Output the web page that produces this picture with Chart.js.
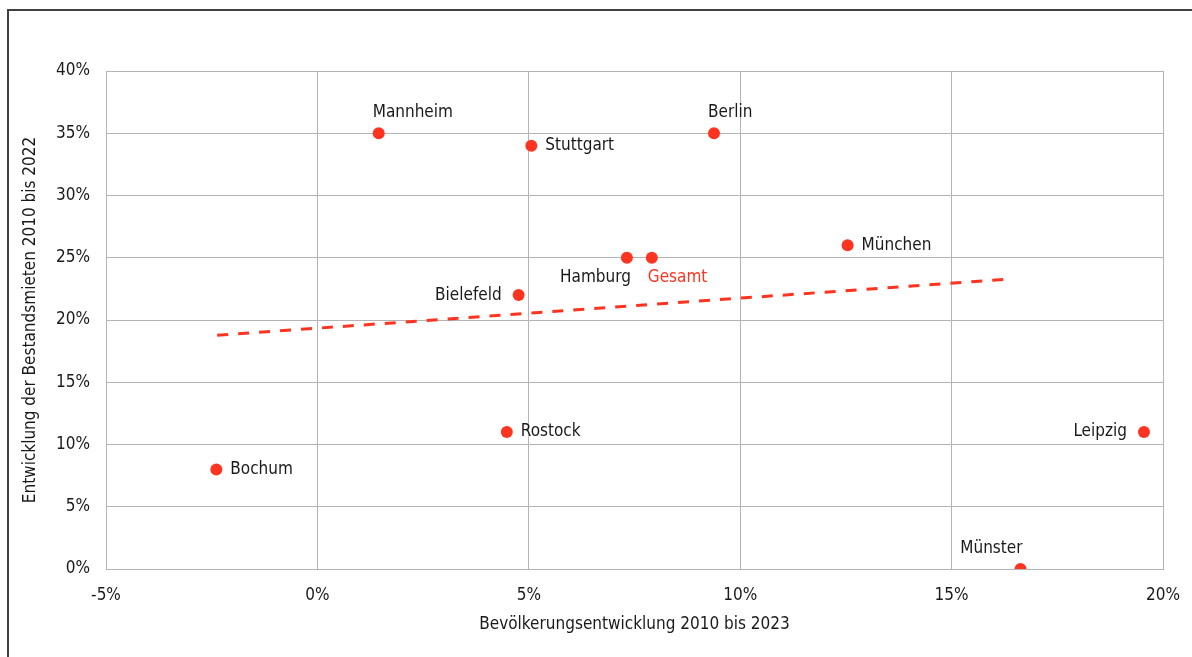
<!DOCTYPE html>
<html><head><meta charset="utf-8">
<script src="https://cdn.jsdelivr.net/npm/chart.js@4/dist/chart.umd.min.js"></script>
<style>html,body{margin:0;padding:0;background:#fff;}canvas{display:block}</style>
</head><body>
<canvas id="c" width="1192" height="657"></canvas>
<script>
// ---- data ----
const cities = ['Mannheim','Stuttgart','Berlin','München','Hamburg','Gesamt','Bielefeld','Rostock','Bochum','Leipzig','Münster'];
const popGrowth = [1.45, 5.06, 9.38, 12.54, 7.32, 7.91, 4.76, 4.48, -2.39, 19.55, 16.63];
const rentGrowth = [35, 34, 35, 26, 25, 25, 22, 11, 8, 11, 0];
const trendX = [-2.37, 16.37];
const trendY = [18.77, 23.29];
const xTicks = [-5, 0, 5, 10, 15, 20];
const yTicks = [0, 5, 10, 15, 20, 25, 30, 35, 40];
const xTitle = 'Bevölkerungsentwicklung 2010 bis 2023';
const yTitle = 'Entwicklung der Bestandsmieten 2010 bis 2022';

// ---- style ----
const RED = '#ff3420';
const TEXT = '#1a1a1a';
const GRID = '#b4b4b4';
const FONT = '"Liberation Sans Narrow", "DejaVu Sans Condensed", "Roboto", sans-serif';
const labelPlacement = {
  'Mannheim': 'aboveStart', 'Berlin': 'aboveStart', 'Münster': 'aboveEnd',
  'Stuttgart': 'right', 'München': 'right', 'Rostock': 'right', 'Bochum': 'right',
  'Bielefeld': 'left', 'Leipzig': 'left',
  'Hamburg': 'belowEnd', 'Gesamt': 'belowStart'
};
const labelColor = { 'Gesamt': RED };

const points = cities.map((c, i) => ({ x: popGrowth[i], y: rentGrowth[i] }));
const trend = trendX.map((x, i) => ({ x, y: trendY[i] }));

const framePlugin = {
  id: 'frame',
  beforeDraw(chart) {
    const ctx = chart.ctx;
    ctx.save();
    ctx.fillStyle = '#fff';
    ctx.fillRect(0, 0, chart.width, chart.height);
    ctx.fillStyle = '#404040';
    ctx.fillRect(7, 9, chart.width, 2);
    ctx.fillRect(7, 9, 2, chart.height);
    ctx.restore();
  }
};

const labelPlugin = {
  id: 'pointLabels',
  afterDatasetsDraw(chart) {
    const ctx = chart.ctx;
    const meta = chart.getDatasetMeta(1);
    ctx.save();
    ctx.font = '17px ' + FONT;
    ctx.textBaseline = 'middle';
    meta.data.forEach((el, i) => {
      const name = cities[i];
      const p = labelPlacement[name];
      let x = el.x, y = el.y, align = 'left';
      if (p === 'aboveStart') { x -= 6; y -= 21; align = 'left'; }
      else if (p === 'aboveEnd') { x += 2; y -= 20; align = 'right'; }
      else if (p === 'right') { x += 14; align = 'left'; }
      else if (p === 'left') { x -= 17; align = 'right'; }
      else if (p === 'belowEnd') { x += 4; y += 20; align = 'right'; }
      else if (p === 'belowStart') { x -= 4; y += 20; align = 'left'; }
      ctx.textAlign = align;
      ctx.fillStyle = labelColor[name] || TEXT;
      ctx.fillText(name, x, y);
    });
    ctx.restore();
  }
};

new Chart(document.getElementById('c'), {
  type: 'scatter',
  data: {
    datasets: [
      {
        label: 'Trend',
        data: trend,
        showLine: true,
        borderColor: RED,
        borderWidth: 3,
        borderDash: [11, 10],
        pointRadius: 0,
        fill: false
      },
      {
        label: 'Städte',
        data: points,
        backgroundColor: RED,
        borderWidth: 0,
        pointRadius: 6,
        pointHoverRadius: 6
      }
    ]
  },
  options: {
    responsive: false,
    animation: false,
    devicePixelRatio: 1,
    layout: { padding: { top: 71, right: 29, left: 0, bottom: 0 } },
    plugins: { legend: { display: false }, tooltip: { enabled: false } },
    scales: {
      x: {
        type: 'linear',
        min: xTicks[0], max: xTicks[xTicks.length - 1],
        afterBuildTicks(s) { s.ticks = xTicks.map(v => ({ value: v })); },
        afterFit(s) { s.height = 88; s.paddingRight = 0; s.paddingLeft = 0; },
        grid: { color: GRID, lineWidth: 1, drawTicks: false },
        border: { color: GRID, width: 1 },
        ticks: { padding: 16, color: TEXT, font: { family: FONT, size: 17 }, callback: v => v + '%' },
        title: { display: true, text: xTitle, color: TEXT, font: { family: FONT, size: 17 }, padding: { top: 0, bottom: 22 } }
      },
      y: {
        type: 'linear',
        min: yTicks[0], max: yTicks[yTicks.length - 1],
        afterBuildTicks(s) { s.ticks = yTicks.map(v => ({ value: v })); },
        afterFit(s) { s.width = 106; s.paddingTop = 0; s.paddingBottom = 0; },
        grid: { color: GRID, lineWidth: 1, drawTicks: false },
        border: { color: GRID, width: 1 },
        ticks: { padding: 16, color: TEXT, font: { family: FONT, size: 17 }, callback: v => v + '%' },
        title: { display: true, text: yTitle, color: TEXT, font: { family: FONT, size: 17 }, padding: { top: 20, bottom: 0 } }
      }
    }
  },
  plugins: [framePlugin, labelPlugin]
});
</script>
</body></html>
